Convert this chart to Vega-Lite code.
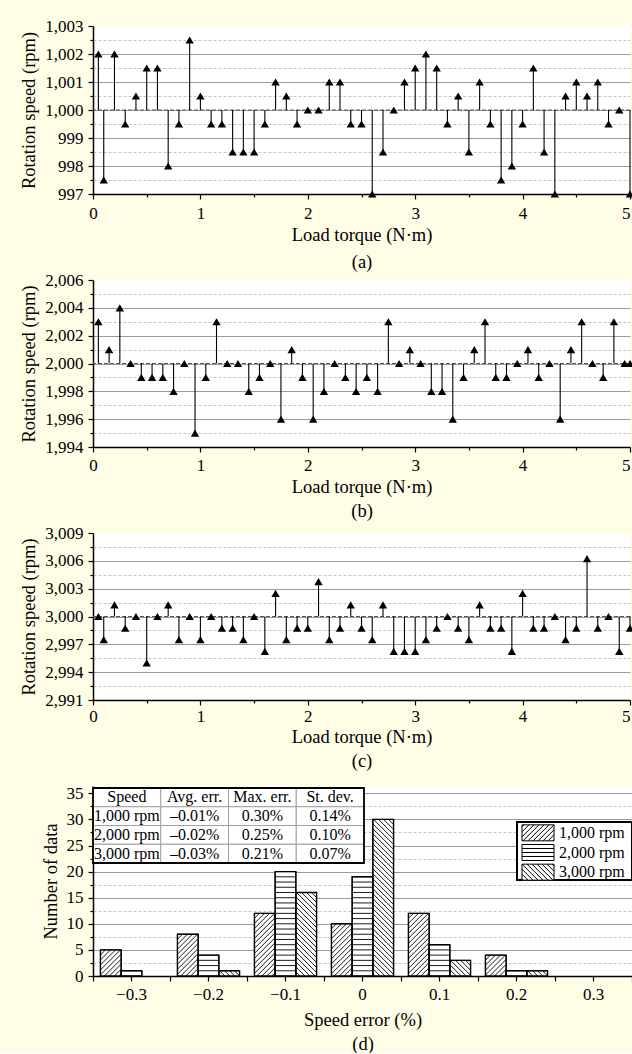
{
  "$schema": "https://vega.github.io/schema/vega-lite/v6.json",
  "background": "#FFFDE6",
  "padding": {"left": 19, "top": 17, "right": 0, "bottom": 0},
  "bounds": "flush",
  "spacing": 86,
  "config": {
    "font": "Liberation Serif",
    "view": {"fill": "white", "stroke": null},
    "axis": {
      "labelFont": "Liberation Serif",
      "titleFont": "Liberation Serif",
      "labelFontSize": 17,
      "titleFontSize": 18.5,
      "titleFontWeight": "normal",
      "labelColor": "black",
      "titleColor": "black",
      "domainColor": "black",
      "domainWidth": 1.5,
      "tickColor": "black",
      "tickWidth": 1.2,
      "labelPadding": 5,
      "labelOverlap": false,
      "labelFlush": false,
      "titleLineHeight": 24
    },
    "axisY": {"titlePadding": 6},
    "axisX": {"titlePadding": 4}
  },
  "datasets": {
    "speed1000": [
      {"torque": 0.05, "rpm": 1002}, {"torque": 0.1, "rpm": 997.5}, {"torque": 0.2, "rpm": 1002}, {"torque": 0.3, "rpm": 999.5},
      {"torque": 0.4, "rpm": 1000.5}, {"torque": 0.5, "rpm": 1001.5}, {"torque": 0.6, "rpm": 1001.5}, {"torque": 0.7, "rpm": 998},
      {"torque": 0.8, "rpm": 999.5}, {"torque": 0.9, "rpm": 1002.5}, {"torque": 1.0, "rpm": 1000.5}, {"torque": 1.1, "rpm": 999.5},
      {"torque": 1.2, "rpm": 999.5}, {"torque": 1.3, "rpm": 998.5}, {"torque": 1.4, "rpm": 998.5}, {"torque": 1.5, "rpm": 998.5},
      {"torque": 1.6, "rpm": 999.5}, {"torque": 1.7, "rpm": 1001}, {"torque": 1.8, "rpm": 1000.5}, {"torque": 1.9, "rpm": 999.5},
      {"torque": 2.0, "rpm": 1000}, {"torque": 2.1, "rpm": 1000}, {"torque": 2.2, "rpm": 1001}, {"torque": 2.3, "rpm": 1001},
      {"torque": 2.4, "rpm": 999.5}, {"torque": 2.5, "rpm": 999.5}, {"torque": 2.6, "rpm": 997}, {"torque": 2.7, "rpm": 998.5},
      {"torque": 2.8, "rpm": 1000}, {"torque": 2.9, "rpm": 1001}, {"torque": 3.0, "rpm": 1001.5}, {"torque": 3.1, "rpm": 1002},
      {"torque": 3.2, "rpm": 1001.5}, {"torque": 3.3, "rpm": 999.5}, {"torque": 3.4, "rpm": 1000.5}, {"torque": 3.5, "rpm": 998.5},
      {"torque": 3.6, "rpm": 1001}, {"torque": 3.7, "rpm": 999.5}, {"torque": 3.8, "rpm": 997.5}, {"torque": 3.9, "rpm": 998},
      {"torque": 4.0, "rpm": 999.5}, {"torque": 4.1, "rpm": 1001.5}, {"torque": 4.2, "rpm": 998.5}, {"torque": 4.3, "rpm": 997},
      {"torque": 4.4, "rpm": 1000.5}, {"torque": 4.5, "rpm": 1001}, {"torque": 4.6, "rpm": 1000.5}, {"torque": 4.7, "rpm": 1001},
      {"torque": 4.8, "rpm": 999.5}, {"torque": 4.9, "rpm": 1000}, {"torque": 5.0, "rpm": 997}
    ],
    "speed2000": [
      {"torque": 0.05, "rpm": 2003}, {"torque": 0.15, "rpm": 2001}, {"torque": 0.25, "rpm": 2004}, {"torque": 0.35, "rpm": 2000},
      {"torque": 0.45, "rpm": 1999}, {"torque": 0.55, "rpm": 1999}, {"torque": 0.65, "rpm": 1999}, {"torque": 0.75, "rpm": 1998},
      {"torque": 0.85, "rpm": 2000}, {"torque": 0.95, "rpm": 1995}, {"torque": 1.05, "rpm": 1999}, {"torque": 1.15, "rpm": 2003},
      {"torque": 1.25, "rpm": 2000}, {"torque": 1.35, "rpm": 2000}, {"torque": 1.45, "rpm": 1998}, {"torque": 1.55, "rpm": 1999},
      {"torque": 1.65, "rpm": 2000}, {"torque": 1.75, "rpm": 1996}, {"torque": 1.85, "rpm": 2001}, {"torque": 1.95, "rpm": 1999},
      {"torque": 2.05, "rpm": 1996}, {"torque": 2.15, "rpm": 1998}, {"torque": 2.25, "rpm": 2000}, {"torque": 2.35, "rpm": 1999},
      {"torque": 2.45, "rpm": 1998}, {"torque": 2.55, "rpm": 1999}, {"torque": 2.65, "rpm": 1998}, {"torque": 2.75, "rpm": 2003},
      {"torque": 2.85, "rpm": 2000}, {"torque": 2.95, "rpm": 2001}, {"torque": 3.05, "rpm": 2000}, {"torque": 3.15, "rpm": 1998},
      {"torque": 3.25, "rpm": 1998}, {"torque": 3.35, "rpm": 1996}, {"torque": 3.45, "rpm": 1999}, {"torque": 3.55, "rpm": 2001},
      {"torque": 3.65, "rpm": 2003}, {"torque": 3.75, "rpm": 1999}, {"torque": 3.85, "rpm": 1999}, {"torque": 3.95, "rpm": 2000},
      {"torque": 4.05, "rpm": 2001}, {"torque": 4.15, "rpm": 1999}, {"torque": 4.25, "rpm": 2000}, {"torque": 4.35, "rpm": 1996},
      {"torque": 4.45, "rpm": 2001}, {"torque": 4.55, "rpm": 2003}, {"torque": 4.65, "rpm": 2000}, {"torque": 4.75, "rpm": 1999},
      {"torque": 4.85, "rpm": 2003}, {"torque": 4.95, "rpm": 2000}, {"torque": 5.0, "rpm": 2000}
    ],
    "speed3000": [
      {"torque": 0.05, "rpm": 3000}, {"torque": 0.1, "rpm": 2997.5}, {"torque": 0.2, "rpm": 3001.25}, {"torque": 0.3, "rpm": 2998.75},
      {"torque": 0.4, "rpm": 3000}, {"torque": 0.5, "rpm": 2995}, {"torque": 0.6, "rpm": 3000}, {"torque": 0.7, "rpm": 3001.25},
      {"torque": 0.8, "rpm": 2997.5}, {"torque": 0.9, "rpm": 3000}, {"torque": 1.0, "rpm": 2997.5}, {"torque": 1.1, "rpm": 3000},
      {"torque": 1.2, "rpm": 2998.75}, {"torque": 1.3, "rpm": 2998.75}, {"torque": 1.4, "rpm": 2997.5}, {"torque": 1.5, "rpm": 3000},
      {"torque": 1.6, "rpm": 2996.25}, {"torque": 1.7, "rpm": 3002.5}, {"torque": 1.8, "rpm": 2997.5}, {"torque": 1.9, "rpm": 2998.75},
      {"torque": 2.0, "rpm": 2998.75}, {"torque": 2.1, "rpm": 3003.75}, {"torque": 2.2, "rpm": 2997.5}, {"torque": 2.3, "rpm": 2998.75},
      {"torque": 2.4, "rpm": 3001.25}, {"torque": 2.5, "rpm": 2998.75}, {"torque": 2.6, "rpm": 2997.5}, {"torque": 2.7, "rpm": 3001.25},
      {"torque": 2.8, "rpm": 2996.25}, {"torque": 2.9, "rpm": 2996.25}, {"torque": 3.0, "rpm": 2996.25}, {"torque": 3.1, "rpm": 2997.5},
      {"torque": 3.2, "rpm": 2998.75}, {"torque": 3.3, "rpm": 3000}, {"torque": 3.4, "rpm": 2998.75}, {"torque": 3.5, "rpm": 2997.5},
      {"torque": 3.6, "rpm": 3001.25}, {"torque": 3.7, "rpm": 2998.75}, {"torque": 3.8, "rpm": 2998.75}, {"torque": 3.9, "rpm": 2996.25},
      {"torque": 4.0, "rpm": 3002.5}, {"torque": 4.1, "rpm": 2998.75}, {"torque": 4.2, "rpm": 2998.75}, {"torque": 4.3, "rpm": 3000},
      {"torque": 4.4, "rpm": 2997.5}, {"torque": 4.5, "rpm": 2998.75}, {"torque": 4.6, "rpm": 3006.25}, {"torque": 4.7, "rpm": 2998.75},
      {"torque": 4.8, "rpm": 3000}, {"torque": 4.9, "rpm": 2996.25}, {"torque": 5.0, "rpm": 2998.75}
    ],
    "errors": [
      {"bin": -0.3, "speed": 1000, "count": 5}, {"bin": -0.3, "speed": 2000, "count": 1},
      {"bin": -0.2, "speed": 1000, "count": 8}, {"bin": -0.2, "speed": 2000, "count": 4}, {"bin": -0.2, "speed": 3000, "count": 1},
      {"bin": -0.1, "speed": 1000, "count": 12}, {"bin": -0.1, "speed": 2000, "count": 20}, {"bin": -0.1, "speed": 3000, "count": 16},
      {"bin": 0, "speed": 1000, "count": 10}, {"bin": 0, "speed": 2000, "count": 19}, {"bin": 0, "speed": 3000, "count": 30},
      {"bin": 0.1, "speed": 1000, "count": 12}, {"bin": 0.1, "speed": 2000, "count": 6}, {"bin": 0.1, "speed": 3000, "count": 3},
      {"bin": 0.2, "speed": 1000, "count": 4}, {"bin": 0.2, "speed": 2000, "count": 1}, {"bin": 0.2, "speed": 3000, "count": 1}
    ],
    "stats": [
      {"speed": "Speed", "avg": "Avg. err.", "max": "Max. err.", "sd": "St. dev."},
      {"speed": "1,000 rpm", "avg": "–0.01%", "max": "0.30%", "sd": "0.14%"},
      {"speed": "2,000 rpm", "avg": "–0.02%", "max": "0.25%", "sd": "0.10%"},
      {"speed": "3,000 rpm", "avg": "–0.03%", "max": "0.21%", "sd": "0.07%"}
    ]
  },
  "vconcat": [
    {
      "width": 537,
      "height": 168,
      "data": {"name": "speed1000"},
      "layer": [
        {
          "data": {"values": [{}]},
          "mark": {"type": "rule", "color": "#555555", "strokeDash": [4, 2], "strokeWidth": 1},
          "encoding": {
            "y": {
              "datum": 1000, "type": "quantitative",
              "scale": {"domain": [997, 1003], "nice": false, "zero": false},
              "axis": {
                "title": "Rotation speed (rpm)",
                "values": [997, 997.5, 998, 998.5, 999, 999.5, 1000, 1000.5, 1001, 1001.5, 1002, 1002.5, 1003],
                "labelExpr": "datum.value % 1 === 0 ? format(datum.value, ',') : ''",
                "tickSize": {"condition": {"test": "datum.value % 1 !== 0", "value": 3}, "value": 5},
                "grid": true,
                "gridWidth": 1,
                "gridColor": {"condition": {"test": "datum.value % 1 !== 0", "value": "#c6c6c6"}, "value": "#9a9a9a"},
                "gridDash": {"condition": {"test": "datum.value % 1 !== 0", "value": [3, 2]}, "value": []},
                "gridOpacity": {"condition": {"test": "datum.value >= 1003", "value": 0}, "value": 1}
              }
            }
          }
        },
        {
          "mark": {"type": "rule", "color": "black", "strokeWidth": 1.1},
          "encoding": {
            "x": {
              "field": "torque", "type": "quantitative",
              "scale": {"domain": [0, 5], "nice": false},
              "axis": {
                "title": ["Load torque (N·m)", "(a)"],
                "labelPadding": 6,
                "titleLineHeight": 27,
                "values": [0, 0.5, 1, 1.5, 2, 2.5, 3, 3.5, 4, 4.5, 5],
                "labelExpr": "datum.value % 1 === 0 ? format(datum.value, 'd') : ''",
                "labelAlign": {"condition": {"test": "datum.value >= 5", "value": "right"}, "value": "center"},
                "tickSize": {"condition": {"test": "datum.value % 1 !== 0", "value": 3}, "value": 5},
                "grid": false
              }
            },
            "y": {
              "field": "rpm", "type": "quantitative",
              "scale": {"domain": [997, 1003], "nice": false, "zero": false},
              "axis": {
                "title": "Rotation speed (rpm)",
                "values": [997, 997.5, 998, 998.5, 999, 999.5, 1000, 1000.5, 1001, 1001.5, 1002, 1002.5, 1003],
                "labelExpr": "datum.value % 1 === 0 ? format(datum.value, ',') : ''",
                "tickSize": {"condition": {"test": "datum.value % 1 !== 0", "value": 3}, "value": 5},
                "grid": true,
                "gridWidth": 1,
                "gridColor": {"condition": {"test": "datum.value % 1 !== 0", "value": "#c6c6c6"}, "value": "#9a9a9a"},
                "gridDash": {"condition": {"test": "datum.value % 1 !== 0", "value": [3, 2]}, "value": []},
                "gridOpacity": {"condition": {"test": "datum.value >= 1003", "value": 0}, "value": 1}
              }
            },
            "y2": {"datum": 1000}
          }
        },
        {
          "mark": {"type": "point", "shape": "triangle-up", "filled": true, "color": "black", "opacity": 1, "size": 70},
          "encoding": {
            "x": {
              "field": "torque", "type": "quantitative",
              "scale": {"domain": [0, 5], "nice": false},
              "axis": {
                "title": ["Load torque (N·m)", "(a)"],
                "labelPadding": 6,
                "titleLineHeight": 27,
                "values": [0, 0.5, 1, 1.5, 2, 2.5, 3, 3.5, 4, 4.5, 5],
                "labelExpr": "datum.value % 1 === 0 ? format(datum.value, 'd') : ''",
                "labelAlign": {"condition": {"test": "datum.value >= 5", "value": "right"}, "value": "center"},
                "tickSize": {"condition": {"test": "datum.value % 1 !== 0", "value": 3}, "value": 5},
                "grid": false
              }
            },
            "y": {
              "field": "rpm", "type": "quantitative",
              "scale": {"domain": [997, 1003], "nice": false, "zero": false},
              "axis": {
                "title": "Rotation speed (rpm)",
                "values": [997, 997.5, 998, 998.5, 999, 999.5, 1000, 1000.5, 1001, 1001.5, 1002, 1002.5, 1003],
                "labelExpr": "datum.value % 1 === 0 ? format(datum.value, ',') : ''",
                "tickSize": {"condition": {"test": "datum.value % 1 !== 0", "value": 3}, "value": 5},
                "grid": true,
                "gridWidth": 1,
                "gridColor": {"condition": {"test": "datum.value % 1 !== 0", "value": "#c6c6c6"}, "value": "#9a9a9a"},
                "gridDash": {"condition": {"test": "datum.value % 1 !== 0", "value": [3, 2]}, "value": []},
                "gridOpacity": {"condition": {"test": "datum.value >= 1003", "value": 0}, "value": 1}
              }
            }
          }
        }
      ]
    },
    {
      "width": 537,
      "height": 167,
      "data": {"name": "speed2000"},
      "layer": [
        {
          "data": {"values": [{}]},
          "mark": {"type": "rule", "color": "#555555", "strokeDash": [4, 2], "strokeWidth": 1},
          "encoding": {
            "y": {
              "datum": 2000, "type": "quantitative",
              "scale": {"domain": [1994, 2006], "nice": false, "zero": false},
              "axis": {
                "title": "Rotation speed (rpm)",
                "values": [1994, 1995, 1996, 1997, 1998, 1999, 2000, 2001, 2002, 2003, 2004, 2005, 2006],
                "labelExpr": "datum.value % 2 === 0 ? format(datum.value, ',') : ''",
                "tickSize": {"condition": {"test": "datum.value % 2 !== 0", "value": 3}, "value": 5},
                "grid": true,
                "gridWidth": 1,
                "gridColor": {"condition": {"test": "datum.value % 2 !== 0", "value": "#c6c6c6"}, "value": "#9a9a9a"},
                "gridDash": {"condition": {"test": "datum.value % 2 !== 0", "value": [3, 2]}, "value": []},
                "gridOpacity": {"condition": {"test": "datum.value >= 2006", "value": 0}, "value": 1}
              }
            }
          }
        },
        {
          "mark": {"type": "rule", "color": "black", "strokeWidth": 1.1},
          "encoding": {
            "x": {
              "field": "torque", "type": "quantitative",
              "scale": {"domain": [0, 5], "nice": false},
              "axis": {
                "title": ["Load torque (N·m)", "(b)"],
                "values": [0, 0.5, 1, 1.5, 2, 2.5, 3, 3.5, 4, 4.5, 5],
                "labelExpr": "datum.value % 1 === 0 ? format(datum.value, 'd') : ''",
                "labelAlign": {"condition": {"test": "datum.value >= 5", "value": "right"}, "value": "center"},
                "tickSize": {"condition": {"test": "datum.value % 1 !== 0", "value": 3}, "value": 5},
                "grid": false
              }
            },
            "y": {
              "field": "rpm", "type": "quantitative",
              "scale": {"domain": [1994, 2006], "nice": false, "zero": false},
              "axis": {
                "title": "Rotation speed (rpm)",
                "values": [1994, 1995, 1996, 1997, 1998, 1999, 2000, 2001, 2002, 2003, 2004, 2005, 2006],
                "labelExpr": "datum.value % 2 === 0 ? format(datum.value, ',') : ''",
                "tickSize": {"condition": {"test": "datum.value % 2 !== 0", "value": 3}, "value": 5},
                "grid": true,
                "gridWidth": 1,
                "gridColor": {"condition": {"test": "datum.value % 2 !== 0", "value": "#c6c6c6"}, "value": "#9a9a9a"},
                "gridDash": {"condition": {"test": "datum.value % 2 !== 0", "value": [3, 2]}, "value": []},
                "gridOpacity": {"condition": {"test": "datum.value >= 2006", "value": 0}, "value": 1}
              }
            },
            "y2": {"datum": 2000}
          }
        },
        {
          "mark": {"type": "point", "shape": "triangle-up", "filled": true, "color": "black", "opacity": 1, "size": 70},
          "encoding": {
            "x": {
              "field": "torque", "type": "quantitative",
              "scale": {"domain": [0, 5], "nice": false},
              "axis": {
                "title": ["Load torque (N·m)", "(b)"],
                "values": [0, 0.5, 1, 1.5, 2, 2.5, 3, 3.5, 4, 4.5, 5],
                "labelExpr": "datum.value % 1 === 0 ? format(datum.value, 'd') : ''",
                "labelAlign": {"condition": {"test": "datum.value >= 5", "value": "right"}, "value": "center"},
                "tickSize": {"condition": {"test": "datum.value % 1 !== 0", "value": 3}, "value": 5},
                "grid": false
              }
            },
            "y": {
              "field": "rpm", "type": "quantitative",
              "scale": {"domain": [1994, 2006], "nice": false, "zero": false},
              "axis": {
                "title": "Rotation speed (rpm)",
                "values": [1994, 1995, 1996, 1997, 1998, 1999, 2000, 2001, 2002, 2003, 2004, 2005, 2006],
                "labelExpr": "datum.value % 2 === 0 ? format(datum.value, ',') : ''",
                "tickSize": {"condition": {"test": "datum.value % 2 !== 0", "value": 3}, "value": 5},
                "grid": true,
                "gridWidth": 1,
                "gridColor": {"condition": {"test": "datum.value % 2 !== 0", "value": "#c6c6c6"}, "value": "#9a9a9a"},
                "gridDash": {"condition": {"test": "datum.value % 2 !== 0", "value": [3, 2]}, "value": []},
                "gridOpacity": {"condition": {"test": "datum.value >= 2006", "value": 0}, "value": 1}
              }
            }
          }
        }
      ]
    },
    {
      "width": 537,
      "height": 167,
      "data": {"name": "speed3000"},
      "layer": [
        {
          "data": {"values": [{}]},
          "mark": {"type": "rule", "color": "#555555", "strokeDash": [4, 2], "strokeWidth": 1},
          "encoding": {
            "y": {
              "datum": 3000, "type": "quantitative",
              "scale": {"domain": [2991, 3009], "nice": false, "zero": false},
              "axis": {
                "title": "Rotation speed (rpm)",
                "values": [2991, 2992.5, 2994, 2995.5, 2997, 2998.5, 3000, 3001.5, 3003, 3004.5, 3006, 3007.5, 3009],
                "labelExpr": "(datum.value - 2991) % 3 === 0 ? format(datum.value, ',') : ''",
                "tickSize": {"condition": {"test": "(datum.value - 2991) % 3 !== 0", "value": 3}, "value": 5},
                "grid": true,
                "gridWidth": 1,
                "gridColor": {"condition": {"test": "(datum.value - 2991) % 3 !== 0", "value": "#c6c6c6"}, "value": "#9a9a9a"},
                "gridDash": {"condition": {"test": "(datum.value - 2991) % 3 !== 0", "value": [3, 2]}, "value": []},
                "gridOpacity": {"condition": {"test": "datum.value >= 3009", "value": 0}, "value": 1}
              }
            }
          }
        },
        {
          "mark": {"type": "rule", "color": "black", "strokeWidth": 1.1},
          "encoding": {
            "x": {
              "field": "torque", "type": "quantitative",
              "scale": {"domain": [0, 5], "nice": false},
              "axis": {
                "title": ["Load torque (N·m)", "(c)"],
                "labelPadding": 3,
                "titlePadding": 3,
                "values": [0, 0.5, 1, 1.5, 2, 2.5, 3, 3.5, 4, 4.5, 5],
                "labelExpr": "datum.value % 1 === 0 ? format(datum.value, 'd') : ''",
                "labelAlign": {"condition": {"test": "datum.value >= 5", "value": "right"}, "value": "center"},
                "tickSize": {"condition": {"test": "datum.value % 1 !== 0", "value": 3}, "value": 5},
                "grid": false
              }
            },
            "y": {
              "field": "rpm", "type": "quantitative",
              "scale": {"domain": [2991, 3009], "nice": false, "zero": false},
              "axis": {
                "title": "Rotation speed (rpm)",
                "values": [2991, 2992.5, 2994, 2995.5, 2997, 2998.5, 3000, 3001.5, 3003, 3004.5, 3006, 3007.5, 3009],
                "labelExpr": "(datum.value - 2991) % 3 === 0 ? format(datum.value, ',') : ''",
                "tickSize": {"condition": {"test": "(datum.value - 2991) % 3 !== 0", "value": 3}, "value": 5},
                "grid": true,
                "gridWidth": 1,
                "gridColor": {"condition": {"test": "(datum.value - 2991) % 3 !== 0", "value": "#c6c6c6"}, "value": "#9a9a9a"},
                "gridDash": {"condition": {"test": "(datum.value - 2991) % 3 !== 0", "value": [3, 2]}, "value": []},
                "gridOpacity": {"condition": {"test": "datum.value >= 3009", "value": 0}, "value": 1}
              }
            },
            "y2": {"datum": 3000}
          }
        },
        {
          "mark": {"type": "point", "shape": "triangle-up", "filled": true, "color": "black", "opacity": 1, "size": 70},
          "encoding": {
            "x": {
              "field": "torque", "type": "quantitative",
              "scale": {"domain": [0, 5], "nice": false},
              "axis": {
                "title": ["Load torque (N·m)", "(c)"],
                "labelPadding": 3,
                "titlePadding": 3,
                "values": [0, 0.5, 1, 1.5, 2, 2.5, 3, 3.5, 4, 4.5, 5],
                "labelExpr": "datum.value % 1 === 0 ? format(datum.value, 'd') : ''",
                "labelAlign": {"condition": {"test": "datum.value >= 5", "value": "right"}, "value": "center"},
                "tickSize": {"condition": {"test": "datum.value % 1 !== 0", "value": 3}, "value": 5},
                "grid": false
              }
            },
            "y": {
              "field": "rpm", "type": "quantitative",
              "scale": {"domain": [2991, 3009], "nice": false, "zero": false},
              "axis": {
                "title": "Rotation speed (rpm)",
                "values": [2991, 2992.5, 2994, 2995.5, 2997, 2998.5, 3000, 3001.5, 3003, 3004.5, 3006, 3007.5, 3009],
                "labelExpr": "(datum.value - 2991) % 3 === 0 ? format(datum.value, ',') : ''",
                "tickSize": {"condition": {"test": "(datum.value - 2991) % 3 !== 0", "value": 3}, "value": 5},
                "grid": true,
                "gridWidth": 1,
                "gridColor": {"condition": {"test": "(datum.value - 2991) % 3 !== 0", "value": "#c6c6c6"}, "value": "#9a9a9a"},
                "gridDash": {"condition": {"test": "(datum.value - 2991) % 3 !== 0", "value": [3, 2]}, "value": []},
                "gridOpacity": {"condition": {"test": "datum.value >= 3009", "value": 0}, "value": 1}
              }
            }
          }
        }
      ]
    },
    {
      "width": 539,
      "height": 190,
      "layer": [
        {
          "data": {"name": "errors"},
          "mark": {"type": "point", "filled": true, "fill": "white", "stroke": "black", "strokeWidth": 0.9, "opacity": 1, "size": 4, "clip": true},
          "encoding": {
            "x": {
              "field": "bin", "type": "ordinal",
              "scale": {"domain": [-0.3, -0.2, -0.1, 0, 0.1, 0.2, 0.3], "paddingInner": 0, "paddingOuter": 0},
              "axis": {
                "orient": "bottom",
                "title": ["Speed error (%)", "(d)"],
                "titlePadding": 8,
                "labelExpr": "format(datum.value, '.1~f')",
                "labelAngle": 0,
                "tickSize": 5
              }
            },
            "xOffset": {
              "field": "speed", "type": "nominal",
              "scale": {"domain": [1000, 2000, 3000], "paddingInner": 0, "paddingOuter": 0.36}
            },
            "y": {
              "field": "count", "type": "quantitative",
              "scale": {"domain": [0, 36.4], "nice": false},
              "axis": {
                "title": "Number of data",
                "values": [0, 2.5, 5, 7.5, 10, 12.5, 15, 17.5, 20, 22.5, 25, 27.5, 30, 32.5, 35],
                "labelExpr": "datum.value % 5 === 0 ? format(datum.value, 'd') : ''",
                "tickSize": {"condition": {"test": "datum.value % 5 !== 0", "value": 3}, "value": 5},
                "grid": true,
                "gridWidth": 1,
                "gridColor": {"condition": {"test": "datum.value % 5 !== 0", "value": "#c6c6c6"}, "value": "#9a9a9a"},
                "gridDash": {"condition": {"test": "datum.value % 5 !== 0", "value": [3, 2]}, "value": []}
              }
            },
            "shape": {
              "field": "speed", "type": "nominal",
              "scale": {
                "domain": [1000, 2000, 3000],
                "range": [
                  "M-10.35,0H10.35V190H-10.35Z M-10.35,5L-5.35,0 M-10.35,10L-0.35,0 M-10.35,15L4.65,0 M-10.35,20L9.65,0 M-10.35,25L10.35,4.3 M-10.35,30L10.35,9.3 M-10.35,35L10.35,14.3 M-10.35,40L10.35,19.3 M-10.35,45L10.35,24.3 M-10.35,50L10.35,29.3 M-10.35,55L10.35,34.3 M-10.35,60L10.35,39.3 M-10.35,65L10.35,44.3 M-10.35,70L10.35,49.3 M-10.35,75L10.35,54.3 M-10.35,80L10.35,59.3 M-10.35,85L10.35,64.3 M-10.35,90L10.35,69.3 M-10.35,95L10.35,74.3 M-10.35,100L10.35,79.3 M-10.35,105L10.35,84.3 M-10.35,110L10.35,89.3 M-10.35,115L10.35,94.3 M-10.35,120L10.35,99.3 M-10.35,125L10.35,104.3 M-10.35,130L10.35,109.3 M-10.35,135L10.35,114.3 M-10.35,140L10.35,119.3 M-10.35,145L10.35,124.3 M-10.35,150L10.35,129.3 M-10.35,155L10.35,134.3 M-10.35,160L10.35,139.3 M-10.35,165L10.35,144.3 M-10.35,170L10.35,149.3 M-10.35,175L10.35,154.3 M-10.35,180L10.35,159.3 M-10.35,185L10.35,164.3 M-10.35,190L10.35,169.3",
                  "M-10.35,0H10.35V190H-10.35Z M-10.35,5.22H10.35 M-10.35,10.44H10.35 M-10.35,15.66H10.35 M-10.35,20.88H10.35 M-10.35,26.1H10.35 M-10.35,31.32H10.35 M-10.35,36.54H10.35 M-10.35,41.76H10.35 M-10.35,46.98H10.35 M-10.35,52.2H10.35 M-10.35,57.42H10.35 M-10.35,62.64H10.35 M-10.35,67.86H10.35 M-10.35,73.08H10.35 M-10.35,78.3H10.35 M-10.35,83.52H10.35 M-10.35,88.74H10.35 M-10.35,93.96H10.35 M-10.35,99.18H10.35 M-10.35,104.4H10.35 M-10.35,109.62H10.35 M-10.35,114.84H10.35 M-10.35,120.06H10.35 M-10.35,125.28H10.35 M-10.35,130.5H10.35 M-10.35,135.72H10.35 M-10.35,140.94H10.35 M-10.35,146.16H10.35 M-10.35,151.38H10.35 M-10.35,156.6H10.35 M-10.35,161.82H10.35 M-10.35,167.04H10.35 M-10.35,172.26H10.35 M-10.35,177.48H10.35 M-10.35,182.7H10.35",
                  "M-10.35,0H10.35V190H-10.35Z M10.35,5L5.35,0 M10.35,10L0.35,0 M10.35,15L-4.65,0 M10.35,20L-9.65,0 M10.35,25L-10.35,4.3 M10.35,30L-10.35,9.3 M10.35,35L-10.35,14.3 M10.35,40L-10.35,19.3 M10.35,45L-10.35,24.3 M10.35,50L-10.35,29.3 M10.35,55L-10.35,34.3 M10.35,60L-10.35,39.3 M10.35,65L-10.35,44.3 M10.35,70L-10.35,49.3 M10.35,75L-10.35,54.3 M10.35,80L-10.35,59.3 M10.35,85L-10.35,64.3 M10.35,90L-10.35,69.3 M10.35,95L-10.35,74.3 M10.35,100L-10.35,79.3 M10.35,105L-10.35,84.3 M10.35,110L-10.35,89.3 M10.35,115L-10.35,94.3 M10.35,120L-10.35,99.3 M10.35,125L-10.35,104.3 M10.35,130L-10.35,109.3 M10.35,135L-10.35,114.3 M10.35,140L-10.35,119.3 M10.35,145L-10.35,124.3 M10.35,150L-10.35,129.3 M10.35,155L-10.35,134.3 M10.35,160L-10.35,139.3 M10.35,165L-10.35,144.3 M10.35,170L-10.35,149.3 M10.35,175L-10.35,154.3 M10.35,180L-10.35,159.3 M10.35,185L-10.35,164.3 M10.35,190L-10.35,169.3"
                ]
              },
              "legend": null
            }
          }
        },
        {
          "data": {"name": "errors"},
          "mark": {"type": "bar", "filled": false, "color": "black", "strokeWidth": 1.4},
          "encoding": {
            "x": {
              "field": "bin", "type": "ordinal",
              "scale": {"domain": [-0.3, -0.2, -0.1, 0, 0.1, 0.2, 0.3], "paddingInner": 0, "paddingOuter": 0},
              "axis": {"orient": "bottom", "tickBand": "extent", "labels": false, "title": null, "tickSize": 5, "domain": false}
            },
            "xOffset": {
              "field": "speed", "type": "nominal",
              "scale": {"domain": [1000, 2000, 3000], "paddingInner": 0, "paddingOuter": 0.36}
            },
            "y": {"field": "count", "type": "quantitative", "scale": {"domain": [0, 36.4], "nice": false}, "axis": null}
          }
        },
        {
          "data": {"name": "stats"},
          "transform": [{"fold": ["speed", "avg", "max", "sd"], "as": ["col", "cell"]}],
          "encoding": {
            "x": {
              "field": "col", "type": "nominal",
              "scale": {"domain": ["speed", "avg", "max", "sd"], "range": [0, 271], "paddingInner": 0, "paddingOuter": 0},
              "axis": null
            },
            "y": {
              "field": "speed", "type": "nominal",
              "scale": {"domain": ["Speed", "1,000 rpm", "2,000 rpm", "3,000 rpm"], "range": [2, 77], "paddingInner": 0, "paddingOuter": 0},
              "axis": null
            }
          },
          "layer": [
            {"mark": {"type": "rect", "fill": "white", "stroke": "#a0a0a0", "strokeWidth": 1}},
            {
              "mark": {"type": "text", "font": "Liberation Serif", "fontSize": 16, "color": "black", "baseline": "middle"},
              "encoding": {"text": {"field": "cell", "type": "nominal"}}
            }
          ]
        },
        {
          "data": {"values": [{}]},
          "mark": {"type": "rect", "filled": false, "stroke": "black", "strokeWidth": 1.8},
          "encoding": {
            "x": {"datum": 0, "type": "quantitative", "scale": {"domain": [0, 1], "range": [0, 271]}, "axis": null},
            "x2": {"datum": 1},
            "y": {"datum": 0, "type": "quantitative", "scale": {"domain": [0, 1], "range": [2, 77]}, "axis": null},
            "y2": {"datum": 1}
          }
        },
        {
          "data": {"values": [{}]},
          "mark": {"type": "rect", "fill": "white", "stroke": "black", "strokeWidth": 2},
          "encoding": {
            "x": {"datum": 0, "type": "quantitative", "scale": {"domain": [0, 1], "range": [424, 539]}, "axis": null},
            "x2": {"datum": 1},
            "y": {"datum": 0, "type": "quantitative", "scale": {"domain": [0, 1], "range": [36, 94]}, "axis": null},
            "y2": {"datum": 1}
          }
        },
        {
          "data": {"name": "errors"},
          "transform": [
            {"aggregate": [{"op": "count", "as": "bars"}], "groupby": ["speed"]},
            {"calculate": "format(datum.speed, ',') + ' rpm'", "as": "label"}
          ],
          "encoding": {
            "x": {"datum": 0, "type": "quantitative", "scale": {"domain": [0, 1], "range": [429, 461]}, "axis": null},
            "y": {
              "field": "speed", "type": "ordinal",
              "scale": {"domain": [1000, 2000, 3000], "range": [37, 96], "paddingInner": 0, "paddingOuter": 0},
              "axis": null
            }
          },
          "layer": [
            {
              "mark": {"type": "point", "filled": true, "fill": "white", "stroke": "black", "strokeWidth": 1, "opacity": 1, "size": 4},
              "encoding": {
                "shape": {
                  "field": "speed", "type": "nominal",
                  "scale": {
                    "domain": [1000, 2000, 3000],
                    "range": [
                      "M0,-8H32V8H0Z M0,-6L2,-8 M0,-1L7,-8 M0,4L12,-8 M1,8L17,-8 M6,8L22,-8 M11,8L27,-8 M16,8L32,-8 M21,8L32,-3 M26,8L32,2 M31,8L32,7",
                      "M0,-8H32V8H0Z M0,-4H32 M0,0H32 M0,4H32",
                      "M0,-8H32V8H0Z M32,-6L30,-8 M32,-1L25,-8 M32,4L20,-8 M31,8L15,-8 M26,8L10,-8 M21,8L5,-8 M16,8L0,-8 M11,8L0,-3 M6,8L0,2 M1,8L0,7"
                    ]
                  },
                  "legend": null
                }
              }
            },
            {
              "mark": {"type": "text", "font": "Liberation Serif", "fontSize": 16, "color": "black", "align": "left", "baseline": "middle", "dx": 37},
              "encoding": {"text": {"field": "label", "type": "nominal"}}
            }
          ]
        }
      ],
      "resolve": {
        "scale": {"x": "independent", "y": "independent", "shape": "independent"},
        "axis": {"x": "independent", "y": "independent"}
      }
    }
  ]
}
